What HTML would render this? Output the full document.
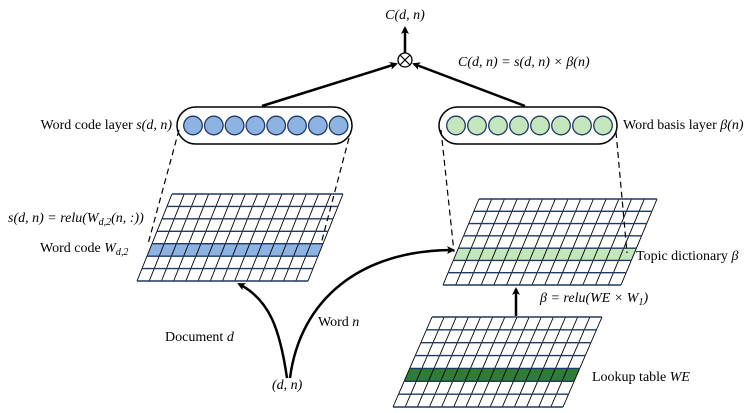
<!DOCTYPE html>
<html><head><meta charset="utf-8"><style>
body{margin:0;background:#fff}
svg{display:block}
text{font-family:"Liberation Serif",serif;font-size:14px;fill:#000}
.m{font-style:italic}
</style></head><body>
<svg id="s" width="748" height="413" viewBox="0 0 748 413" xmlns="http://www.w3.org/2000/svg">
<defs><marker id="ah" markerWidth="8" markerHeight="8" refX="6" refY="4" orient="auto" markerUnits="userSpaceOnUse"><path d="M0,0 L8,4 L0,8 L2,4 z" fill="#000"/></marker></defs>
<g id="grids"></g>
<rect x="177" y="107" width="175" height="37" rx="18.5" fill="#fff" stroke="#000" stroke-width="1.5"/>
<rect x="439" y="107" width="178" height="37" rx="18.5" fill="#fff" stroke="#000" stroke-width="1.5"/>
<g id="circ"></g>
<g stroke="#000" stroke-width="1.2" stroke-dasharray="6,4" fill="none">
<line x1="179" y1="130" x2="148" y2="244"/>
<line x1="349" y1="138" x2="321" y2="244"/>
<line x1="441" y1="130" x2="454" y2="252"/>
<line x1="616" y1="132" x2="627" y2="253"/>
</g>
<circle cx="405" cy="60" r="7" fill="#fff" stroke="#000" stroke-width="1.3"/>
<line x1="400" y1="55" x2="410" y2="65" stroke="#000" stroke-width="1.2"/>
<line x1="410" y1="55" x2="400" y2="65" stroke="#000" stroke-width="1.2"/>
<g stroke="#000" stroke-width="2.5" fill="none">
<line x1="405" y1="53" x2="405" y2="28" marker-end="url(#ah)"/>
<line x1="262" y1="106" x2="396" y2="64" marker-end="url(#ah)"/>
<line x1="525" y1="106" x2="414" y2="64" marker-end="url(#ah)"/>
<path d="M287,378 C280,330 270,300 239,284" marker-end="url(#ah)"/>
<path d="M290,378 C300,300 360,250 453,250" marker-end="url(#ah)"/>
<line x1="516" y1="316" x2="516" y2="289" marker-end="url(#ah)"/>
</g>
<text x="405" y="19" class="m" font-size="15" text-anchor="middle">C(d, n)</text>
<text x="458" y="66" class="m">C(d, n) = s(d, n) × β(n)</text>
<text x="172" y="129" text-anchor="end">Word code layer <tspan class="m">s(d, n)</tspan></text>
<text x="8" y="222" class="m">s(d, n) = relu(W<tspan font-size="10" dy="3">d,2</tspan><tspan dy="-3">(n, :))</tspan></text>
<text x="40" y="252">Word code <tspan class="m">W</tspan><tspan class="m" font-size="10" dy="3">d,2</tspan></text>
<text x="165" y="341">Document <tspan class="m">d</tspan></text>
<text x="318" y="326">Word <tspan class="m">n</tspan></text>
<text x="272" y="389" class="m">(d, n)</text>
<text x="623" y="129">Word basis layer <tspan class="m">β(n)</tspan></text>
<text x="636" y="260">Topic dictionary <tspan class="m">β</tspan></text>
<text x="540" y="302" class="m">β = relu(WE × W<tspan font-size="10" dy="3">1</tspan><tspan dy="-3">)</tspan></text>
<text x="592" y="381">Lookup table <tspan class="m">WE</tspan></text>
</svg>
<script>
var NS="http://www.w3.org/2000/svg";
function el(p,t,a){var e=document.createElementNS(NS,t);for(var k in a)e.setAttribute(k,a[k]);p.appendChild(e);return e;}
var g=document.getElementById("grids");
function grid(x0,y0,W,H,S,hr,col){
 var R=7,C=14;
 function pt(u,v){return [x0+u*W-v*S,y0+v*H];}
 var a=pt(0,hr/R),b=pt(1,hr/R),c=pt(1,(hr+1)/R),d=pt(0,(hr+1)/R);
 el(g,"polygon",{points:[a,b,c,d].map(p=>p.join(",")).join(" "),fill:col});
 for(var j=0;j<=C;j++){var p=pt(j/C,0),q=pt(j/C,1);el(g,"line",{x1:p[0],y1:p[1],x2:q[0],y2:q[1],stroke:"#000","stroke-width":0.9});}
 for(var i=0;i<=R;i++){var p=pt(0,i/R),q=pt(1,i/R);el(g,"line",{x1:p[0],y1:p[1],x2:q[0],y2:q[1],stroke:"#1f3864","stroke-width":1.4});}
}
grid(172,194,171,87,35,4,"#8db3e2");
grid(479,199,178,86,36,4,"#c4e6bd");
grid(432,317,170,90,39,4,"#2e7d32");
var cg=document.getElementById("circ");
for(var i=0;i<8;i++){
 el(cg,"circle",{cx:193+i*20.8,cy:125.5,r:9.3,fill:"#8db3e2",stroke:"#1f3864","stroke-width":1.3});
 el(cg,"circle",{cx:456+i*21,cy:125.5,r:9.3,fill:"#c4e6bd",stroke:"#1f3864","stroke-width":1.3});
}
</script>
</body></html>
